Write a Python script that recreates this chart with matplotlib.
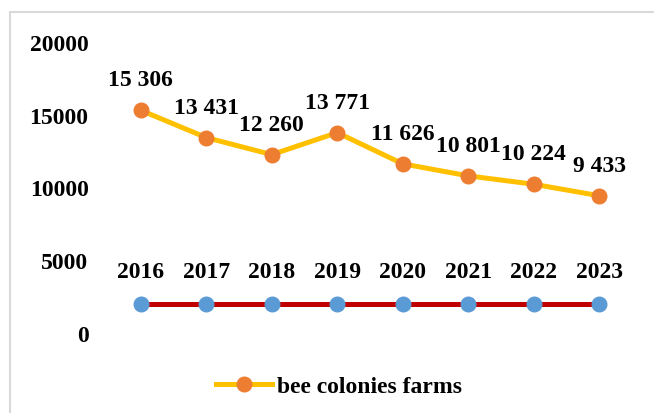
import matplotlib
matplotlib.use("Agg")
import matplotlib.pyplot as plt
from matplotlib.patches import Rectangle

years = ["2016", "2017", "2018", "2019", "2020", "2021", "2022", "2023"]
bee_farms = [15306, 13431, 12260, 13771, 11626, 10801, 10224, 9433]
bee_labels = ["15 306", "13 431", "12 260", "13 771", "11 626", "10 801", "10 224", "9 433"]
year_series = [2000] * 8
y_ticks = [0, 5000, 10000, 15000, 20000]

plt.rcParams['font.family'] = ['Liberation Serif', 'DejaVu Serif']
plt.rcParams['font.weight'] = 'bold'
FS = 17

W, H = 654, 414
fig = plt.figure(figsize=(W / 100, H / 100), dpi=100)
fig.patches.append(Rectangle((10 / W, -0.1), 1.2, 1 - 13 / H + 0.1, transform=fig.transFigure,
                             fill=False, edgecolor='#D9D9D9', linewidth=1.5))

ax = fig.add_axes([108 / W, (H - 334) / H, 524 / W, 291 / H])
x = list(range(len(years)))

ax.plot(x, year_series, color='#C00000', linewidth=3.6, marker='o', markersize=10.5,
        markerfacecolor='#5B9BD5', markeredgecolor='#5B9BD5', zorder=3)
line, = ax.plot(x, bee_farms, color='#FFC000', linewidth=3.6, marker='o', markersize=10.5,
                markerfacecolor='#ED7D31', markeredgecolor='#ED7D31', zorder=4,
                label='bee colonies farms')

for xi, v, lab in zip(x, bee_farms, bee_labels):
    ax.annotate(lab, (xi, v), xytext=(0, 22), textcoords='offset points', ha='center',
                va='center', fontsize=FS, fontweight='bold')
for xi, v, lab in zip(x, year_series, years):
    ax.annotate(lab, (xi, v), xytext=(0, 23), textcoords='offset points', ha='center',
                va='center', fontsize=FS, fontweight='bold')

ax.set_xlim(-0.5, len(years) - 0.5)
ax.set_ylim(0, 20000)
ax.set_yticks(y_ticks)
ax.set_yticklabels([str(t) for t in y_ticks], fontsize=FS, fontweight='bold')
ax.tick_params(axis='y', length=0, pad=14)
ax.set_xticks([])
for s in ax.spines.values():
    s.set_visible(False)

leg = fig.legend(handles=[line], loc='center', bbox_to_anchor=(339 / W, 1 - 387 / H),
                 frameon=False, handlelength=2.35, handletextpad=0.2,
                 prop={'family': 'Liberation Serif', 'weight': 'bold', 'size': FS})

fig.savefig('out.png', dpi=100)
